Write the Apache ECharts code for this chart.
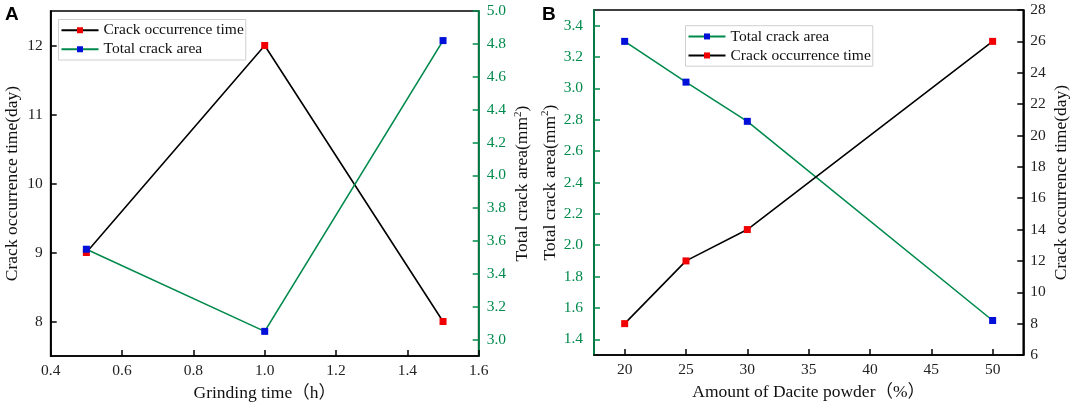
<!DOCTYPE html>
<html>
<head>
<meta charset="utf-8">
<script src="https://cdn.jsdelivr.net/npm/echarts@6/dist/echarts.min.js"></script>
<style>
  html, body { margin: 0; padding: 0; background: #fff; }
  #chart { width: 1072px; height: 408px; }
</style>
</head>
<body>
<div id="chart"></div>
<script>
// panel A: grinding time
var grindTime = [0.5, 1.0, 1.5];
var grindCrackTime = [9, 12, 8];
var grindCrackArea = [3.55, 3.05, 4.82];

// panel B: dacite powder amount
var daciteAmount = [20, 25, 30, 50];
var daciteCrackArea = [3.3, 3.04, 2.79, 1.52];
var daciteCrackTime = [8, 12, 14, 26];

var NAME_TIME = 'Crack occurrence time';
var NAME_AREA = 'Total crack area';

var green = '#008a4c';
var serif = '"Liberation Serif", "Noto Sans CJK SC", serif';

function pairs(xs, ys) {
    return xs.map(function (x, i) { return [x, ys[i]]; });
}

var areaName = {
    fontFamily: serif,
    fontSize: 17.5,
    color: '#111',
    rich: {
        n: { fontFamily: serif, fontSize: 17.5, color: '#111', lineHeight: 20 },
        s: { fontFamily: serif, fontSize: 11, color: '#111', verticalAlign: 'top', lineHeight: 20 }
    }
};
var areaTitle = '{n|Total crack area(mm}{s|2}{n|)}';

function valueAxis(opt) {
    var color = opt.color || '#000';
    var ax = {
        type: 'value',
        gridIndex: opt.grid,
        position: opt.position,
        min: opt.min,
        max: opt.max,
        name: opt.name,
        nameLocation: 'middle',
        nameGap: opt.gap,
        nameRotate: opt.rotate,
        nameTextStyle: opt.nameStyle || { fontFamily: serif, fontSize: 17.5, color: '#111' },
        axisLine: { show: true, onZero: false, lineStyle: { color: color, width: 1.7 } },
        axisTick: { show: true, inside: true, length: 6, lineStyle: { color: color, width: 1.5 } },
        axisLabel: {
            fontFamily: serif, fontSize: 15.5, color: opt.labelColor || '#222',
            margin: opt.margin || 7,
            showMinLabel: opt.showMin, showMaxLabel: opt.showMax,
            formatter: opt.fmt
        },
        splitLine: { show: false }
    };
    if (opt.interval != null) ax.interval = opt.interval;
    if (opt.split != null) ax.splitNumber = opt.split;
    return ax;
}

function fix1(v) { return v.toFixed(1); }
function fix0(v) { return String(Math.round(v)); }

var option = {
    animation: false,
    backgroundColor: '#fff',
    grid: [
        { left: 50.7, right: 593.3, top: 11, bottom: 52, show: true, borderColor: '#000', borderWidth: 1.7 },
        { left: 594, right: 48.7, top: 10, bottom: 53, show: true, borderColor: '#000', borderWidth: 1.7 }
    ],
    graphic: [
        { type: 'text', left: 5, top: 5, style: { text: 'A', font: 'bold 19px "Liberation Sans", Arial, sans-serif', fill: '#000' } },
        { type: 'text', left: 542, top: 5, style: { text: 'B', font: 'bold 19px "Liberation Sans", Arial, sans-serif', fill: '#000' } }
    ],
    legend: [
        {
            data: [NAME_TIME, NAME_AREA],
            orient: 'vertical',
            left: 58.5, top: 19.5,
            itemWidth: 37, itemHeight: 7.5, itemGap: 3.5,
            padding: [3, 2, 3, 2],
            borderColor: '#cfcfcf', borderWidth: 1,
            textStyle: { fontFamily: serif, fontSize: 15.5, color: '#111' }
        },
        {
            data: [NAME_AREA, NAME_TIME],
            orient: 'vertical',
            left: 685.5, top: 25.7,
            itemWidth: 37, itemHeight: 7.5, itemGap: 3.5,
            padding: [3, 2, 3, 2],
            borderColor: '#cfcfcf', borderWidth: 1,
            textStyle: { fontFamily: serif, fontSize: 15.5, color: '#111' }
        }
    ],
    xAxis: [
        valueAxis({
            grid: 0, position: 'bottom', min: 0.4, max: 1.6, interval: 0.2,
            name: 'Grinding time（h）', gap: 29, fmt: fix1
        }),
        valueAxis({
            grid: 1, position: 'bottom', min: 17.5, max: 52.5, split: 7,
            showMin: false, showMax: false,
            name: 'Amount of Dacite powder（%）', gap: 29, fmt: fix0
        })
    ],
    yAxis: [
        valueAxis({
            grid: 0, position: 'left', min: 7.5, max: 12.5, split: 5,
            showMin: false, showMax: false, margin: 8,
            name: 'Crack occurrence time(day)', gap: 30, rotate: 90, fmt: fix0
        }),
        valueAxis({
            grid: 0, position: 'right', min: 2.9, max: 5.0, split: 10,
            showMin: false, showMax: true, color: green, labelColor: green, margin: 8,
            name: areaTitle, nameStyle: areaName, gap: 34, rotate: 90, fmt: fix1
        }),
        valueAxis({
            grid: 1, position: 'left', min: 1.3, max: 3.5, split: 11,
            showMin: false, showMax: false, color: green, labelColor: green, margin: 11,
            name: areaTitle, nameStyle: areaName, gap: 34, rotate: 90, fmt: fix1
        }),
        valueAxis({
            grid: 1, position: 'right', min: 6, max: 28, interval: 2,
            showMin: true, showMax: true,
            name: 'Crack occurrence time(day)', gap: 29, rotate: 90, fmt: fix0
        })
    ],
    series: [
        {
            name: NAME_TIME, type: 'line', xAxisIndex: 0, yAxisIndex: 0,
            data: pairs(grindTime, grindCrackTime),
            symbol: 'rect', symbolSize: 7,
            lineStyle: { color: '#000', width: 1.6 },
            itemStyle: { color: '#f00000' }
        },
        {
            name: NAME_AREA, type: 'line', xAxisIndex: 0, yAxisIndex: 1,
            data: pairs(grindTime, grindCrackArea),
            symbol: 'rect', symbolSize: 7,
            lineStyle: { color: green, width: 1.6 },
            itemStyle: { color: '#0010d8' }
        },
        {
            name: NAME_AREA, type: 'line', xAxisIndex: 1, yAxisIndex: 2,
            data: pairs(daciteAmount, daciteCrackArea),
            symbol: 'rect', symbolSize: 7,
            lineStyle: { color: green, width: 1.6 },
            itemStyle: { color: '#0010d8' }
        },
        {
            name: NAME_TIME, type: 'line', xAxisIndex: 1, yAxisIndex: 3,
            data: pairs(daciteAmount, daciteCrackTime),
            symbol: 'rect', symbolSize: 7,
            lineStyle: { color: '#000', width: 1.6 },
            itemStyle: { color: '#f00000' }
        }
    ]
};

var chart = echarts.init(document.getElementById('chart'));
chart.setOption(option);
</script>
</body>
</html>
